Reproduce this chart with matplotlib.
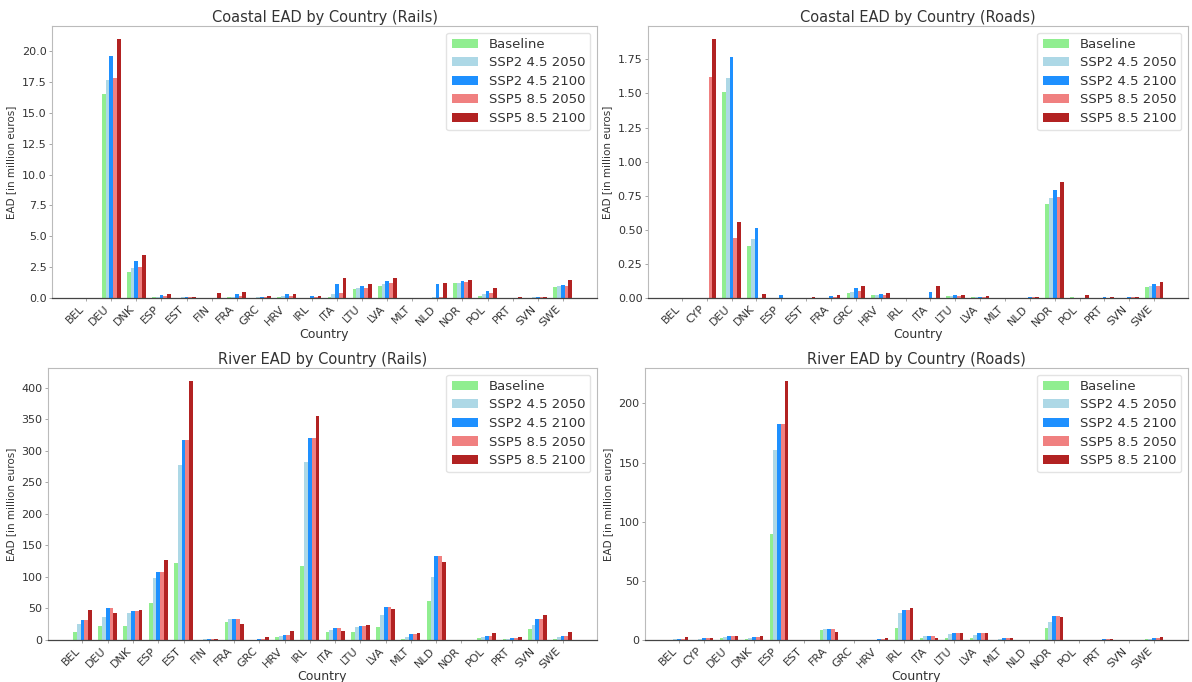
import numpy as np
import matplotlib
matplotlib.use("Agg")
import matplotlib.pyplot as plt

scenarios = ["Baseline", "SSP2 4.5 2050", "SSP2 4.5 2100", "SSP5 8.5 2050", "SSP5 8.5 2100"]
colors = ["#90EE90", "#ADD8E6", "#1E90FF", "#F08080", "#B22222"]

# Coastal - Rails
coastal_rails_countries = ["BEL", "DEU", "DNK", "ESP", "EST", "FIN", "FRA", "GRC", "HRV", "IRL",
                           "ITA", "LTU", "LVA", "MLT", "NLD", "NOR", "POL", "PRT", "SVN", "SWE"]
coastal_rails_baseline = [0, 16.5, 2.1, 0.05, 0.03, 0, 0.05, 0.02, 0.1, 0, 0.1, 0.7, 1.0, 0, 0, 1.2, 0.2, 0, 0.02, 0.9]
coastal_rails_ssp2_2050 = [0, 17.7, 2.4, 0.1, 0.05, 0, 0.1, 0.05, 0.15, 0, 0.3, 0.8, 1.1, 0, 0.05, 1.25, 0.35, 0, 0.05, 0.95]
coastal_rails_ssp2_2100 = [0, 19.6, 3.0, 0.25, 0.05, 0, 0.3, 0.1, 0.3, 0.15, 1.1, 1.0, 1.4, 0, 1.15, 1.35, 0.6, 0, 0.1, 1.06]
coastal_rails_ssp5_2050 = [0, 17.8, 2.5, 0.15, 0.05, 0, 0.15, 0.08, 0.2, 0.05, 0.4, 0.8, 1.2, 0, 0.1, 1.3, 0.4, 0.02, 0.05, 0.97]
coastal_rails_ssp5_2100 = [0, 21.0, 3.5, 0.35, 0.07, 0.4, 0.5, 0.15, 0.35, 0.2, 1.6, 1.1, 1.6, 0, 1.2, 1.48, 0.84, 0.05, 0.1, 1.46]

# Coastal - Roads
coastal_roads_countries = ["BEL", "CYP", "DEU", "DNK", "ESP", "EST", "FRA", "GRC", "HRV", "IRL",
                           "ITA", "LTU", "LVA", "MLT", "NLD", "NOR", "POL", "PRT", "SVN", "SWE"]
coastal_roads_baseline = [0, 0, 1.51, 0.38, 0, 0, 0, 0.04, 0.02, 0, 0, 0.015, 0.005, 0, 0, 0.69, 0.005, 0, 0.003, 0.08]
coastal_roads_ssp2_2050 = [0, 0, 1.61, 0.43, 0, 0, 0.003, 0.045, 0.02, 0, 0, 0.018, 0.005, 0, 0, 0.73, 0, 0, 0.003, 0.09]
coastal_roads_ssp2_2100 = [0, 0, 1.77, 0.51, 0.02, 0, 0.015, 0.075, 0.03, 0, 0.045, 0.02, 0.007, 0, 0.005, 0.79, 0, 0.005, 0.005, 0.10]
coastal_roads_ssp5_2050 = [0, 1.62, 0.44, 0, 0, 0, 0.005, 0.05, 0.02, 0, 0, 0.018, 0.007, 0, 0.005, 0.74, 0, 0, 0.005, 0.085]
coastal_roads_ssp5_2100 = [0, 1.90, 0.56, 0.03, 0, 0.005, 0.025, 0.09, 0.035, 0, 0.09, 0.025, 0.012, 0, 0.005, 0.85, 0.025, 0.005, 0.005, 0.12]

# River - Rails
river_rails_countries = ["BEL", "DEU", "DNK", "ESP", "EST", "FIN", "FRA", "GRC", "HRV", "IRL",
                         "ITA", "LTU", "LVA", "MLT", "NLD", "NOR", "POL", "PRT", "SVN", "SWE"]
river_rails_baseline = [13, 22, 23, 58, 122, 0.5, 29, 0.5, 4, 118, 12, 12, 20, 2, 62, 0, 3, 1, 18, 2]
river_rails_ssp2_2050 = [25, 37, 43, 98, 278, 0.8, 34, 0.5, 6, 283, 16, 20, 40, 4, 100, 0, 5, 2, 24, 5]
river_rails_ssp2_2100 = [32, 50, 46, 108, 318, 1, 34, 2, 8, 321, 19, 23, 53, 9, 134, 0, 7, 3, 34, 7]
river_rails_ssp5_2050 = [32, 50, 46, 108, 318, 1, 34, 2, 8, 321, 19, 23, 53, 9, 134, 0, 7, 3, 34, 7]
river_rails_ssp5_2100 = [47, 43, 48, 127, 411, 1.2, 25, 4, 15, 356, 15, 24, 49, 11, 124, 0, 11, 4, 40, 12]

# River - Roads
river_roads_countries = ["BEL", "CYP", "DEU", "DNK", "ESP", "EST", "FRA", "GRC", "HRV", "IRL",
                         "ITA", "LTU", "LVA", "MLT", "NLD", "NOR", "POL", "PRT", "SVN", "SWE"]
river_roads_baseline = [0.3, 0.3, 1.5, 1, 90, 0, 8.5, 0, 0.2, 10, 2, 2, 2, 0.3, 0, 10, 0, 0.3, 0.2, 0.5]
river_roads_ssp2_2050 = [0.5, 0.5, 2.5, 2, 161, 0, 9.5, 0, 0.3, 23, 3.5, 5, 4, 0.5, 0, 15, 0, 0.3, 0.2, 1]
river_roads_ssp2_2100 = [1.2, 2, 3, 2.5, 183, 0, 9.5, 0, 0.5, 25, 3.5, 6, 6, 1.5, 0, 20.5, 0, 0.5, 0.3, 2]
river_roads_ssp5_2050 = [1.2, 2, 3, 2.5, 183, 0, 9.5, 0, 0.5, 25, 3.5, 6, 6, 1.5, 0, 20.5, 0, 0.5, 0.3, 2]
river_roads_ssp5_2100 = [2.5, 2, 3.5, 3, 219, 0, 7, 0, 1.5, 27, 2, 6, 6, 2, 0, 19.5, 0, 1.2, 0.3, 2.5]

panels = [
    ("Coastal EAD by Country (Rails)", coastal_rails_countries,
     [coastal_rails_baseline, coastal_rails_ssp2_2050, coastal_rails_ssp2_2100, coastal_rails_ssp5_2050, coastal_rails_ssp5_2100],
     [52, 26, 597, 298]),
    ("Coastal EAD by Country (Roads)", coastal_roads_countries,
     [coastal_roads_baseline, coastal_roads_ssp2_2050, coastal_roads_ssp2_2100, coastal_roads_ssp5_2050, coastal_roads_ssp5_2100],
     [648, 26, 1188, 298]),
    ("River EAD by Country (Rails)", river_rails_countries,
     [river_rails_baseline, river_rails_ssp2_2050, river_rails_ssp2_2100, river_rails_ssp5_2050, river_rails_ssp5_2100],
     [48, 368, 597, 640]),
    ("River EAD by Country (Roads)", river_roads_countries,
     [river_roads_baseline, river_roads_ssp2_2050, river_roads_ssp2_2100, river_roads_ssp5_2050, river_roads_ssp5_2100],
     [645, 368, 1188, 640]),
]

W, H = 1192, 682
fig = plt.figure(figsize=(W / 100, H / 100), dpi=100)
text_color = "#333333"
width = 0.15

for title, countries, series, (x0, y0, x1, y1) in panels:
    ax = fig.add_axes([x0 / W, 1 - y1 / H, (x1 - x0) / W, (y1 - y0) / H])
    x = np.arange(len(countries))
    for i, (vals, name, c) in enumerate(zip(series, scenarios, colors)):
        ax.bar(x + (i - 2) * width, vals, width, color=c, label=name)
    ax.set_xticks(x)
    ax.set_xticklabels(countries, rotation=45, ha="right", fontsize=8, color=text_color)
    ax.tick_params(axis="y", labelsize=8, colors="#999999", labelcolor=text_color, length=2, width=0.6, pad=2)
    ax.tick_params(axis="x", colors="#999999", labelcolor=text_color, length=2, width=0.6, pad=2)
    ax.set_title(title, fontsize=10.5, color=text_color, pad=3)
    ax.set_xlabel("Country", fontsize=9, color=text_color, labelpad=0)
    ax.set_ylabel("EAD [in million euros]", fontsize=7.5, color=text_color, labelpad=4)
    for s in ["left", "top", "right"]:
        ax.spines[s].set_color("#bbbbbb")
        ax.spines[s].set_linewidth(0.8)
    ax.spines["bottom"].set_color("#444444")
    ax.spines["bottom"].set_linewidth(0.9)
    leg = ax.legend(loc="upper right", fontsize=9.5, frameon=True, handlelength=2.0,
                    labelspacing=0.42, borderaxespad=0.5)
    leg.get_frame().set_edgecolor("#dddddd")
    for t in leg.get_texts():
        t.set_color(text_color)

fig.savefig("out.png", dpi=100)
